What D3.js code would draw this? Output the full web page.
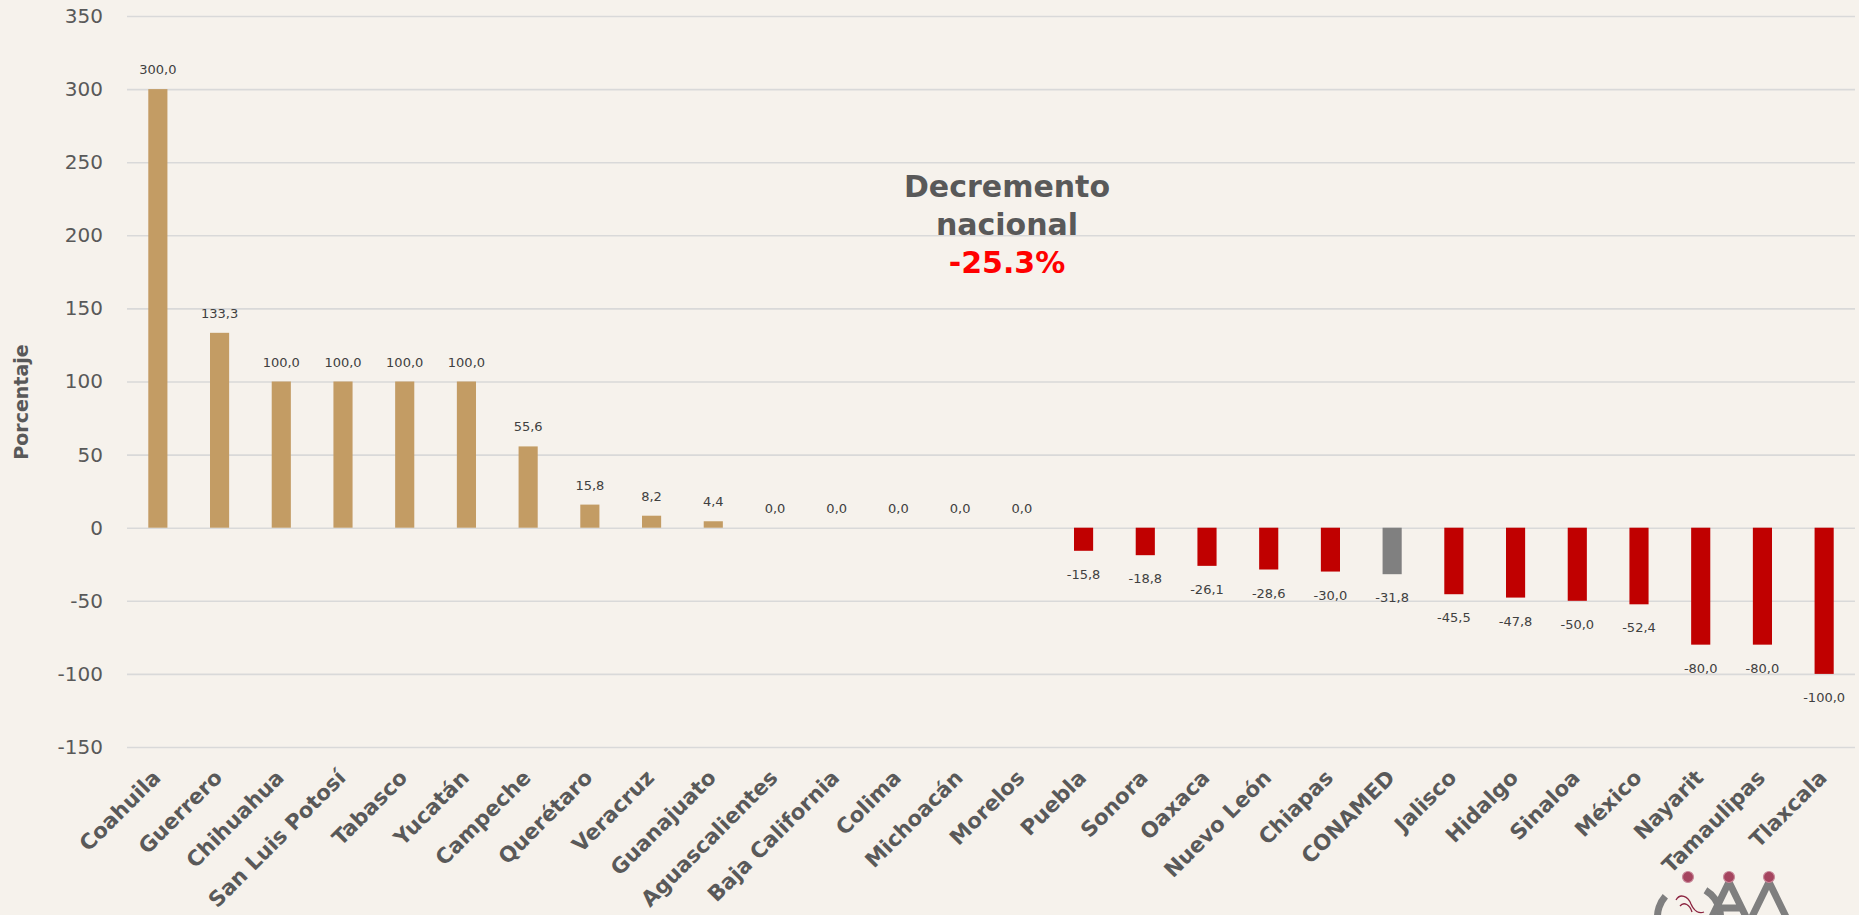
<!DOCTYPE html>
<html>
<head>
<meta charset="utf-8">
<script src="https://cdn.jsdelivr.net/npm/d3@7"></script>
<style>
  html, body { margin: 0; padding: 0; background: #F6F2EC; }
  svg { display: block; }
</style>
</head>
<body>
<script>
// estados y variacion porcentual
var categories = ["Coahuila", "Guerrero", "Chihuahua", "San Luis Potosí", "Tabasco", "Yucatán",
  "Campeche", "Querétaro", "Veracruz", "Guanajuato", "Aguascalientes", "Baja California",
  "Colima", "Michoacán", "Morelos", "Puebla", "Sonora", "Oaxaca", "Nuevo León", "Chiapas",
  "CONAMED", "Jalisco", "Hidalgo", "Sinaloa", "México", "Nayarit", "Tamaulipas", "Tlaxcala"];
var values = [300.0, 133.3, 100.0, 100.0, 100.0, 100.0, 55.6, 15.8, 8.2, 4.4, 0.0, 0.0,
  0.0, 0.0, 0.0, -15.8, -18.8, -26.1, -28.6, -30.0, -31.8, -45.5, -47.8, -50.0, -52.4,
  -80.0, -80.0, -100.0];
var yTicks = [-150, -100, -50, 0, 50, 100, 150, 200, 250, 300, 350];
var note = ["Decremento", "nacional", "-25.3%"];

var W = 1859, H = 915;
var mLeft = 127, mRight = 1855, mTop = 16, mBottom = 747;

var svg = d3.select("body").append("svg")
    .attr("width", W).attr("height", H);
svg.append("rect").attr("width", W).attr("height", H).attr("fill", "#F6F2EC");

var x = d3.scaleBand().domain(categories).range([mLeft, mRight])
    .paddingInner(0.69).paddingOuter(0.345);
var y = d3.scaleLinear().domain([-150, 350]).range([mBottom, mTop]);

// grid + tick labels
var yAxis = svg.append("g").attr("transform", "translate(" + mLeft + ",0)")
    .call(d3.axisLeft(y).tickValues(yTicks).tickSize(-(mRight - mLeft)).tickPadding(24)
      .tickFormat(function(d){ return d; }));
yAxis.select(".domain").remove();
yAxis.selectAll("line").attr("stroke", "#D9D9D9").attr("stroke-width", 1.6);
yAxis.selectAll("text").attr("fill", "#595959")
    .style("font-family", "'DejaVu Sans', sans-serif").style("font-size", "20px");

function barColor(c, v){
  if (c == "CONAMED") return "#808080";
  return v < 0 ? "#C00000" : "#C39C64";
}

var data = categories.map(function(c, i){ return {cat: c, val: values[i]}; });

svg.append("g").selectAll("rect").data(data).enter().append("rect")
    .attr("x", function(d){ return x(d.cat); })
    .attr("width", x.bandwidth())
    .attr("y", function(d){ return y(Math.max(0, d.val)); })
    .attr("height", function(d){ return Math.abs(y(d.val) - y(0)); })
    .attr("fill", function(d){ return barColor(d.cat, d.val); });

// etiquetas de datos
svg.append("g").selectAll("text").data(data).enter().append("text")
    .attr("x", function(d){ return x(d.cat) + x.bandwidth() / 2; })
    .attr("y", function(d){ return d.val < 0 ? y(d.val) + 28 : y(d.val) - 15; })
    .attr("text-anchor", "middle")
    .attr("fill", "#404040")
    .style("font-family", "'DejaVu Sans', sans-serif").style("font-size", "13px")
    .text(function(d){ return d.val.toFixed(1).replace(".", ","); });

// categorias rotadas
svg.append("g").selectAll("text").data(categories).enter().append("text")
    .attr("transform", function(d){
      return "translate(" + (x(d) + x.bandwidth() / 2 + 4) + ",779) rotate(-45)";
    })
    .attr("text-anchor", "end")
    .attr("fill", "#595959")
    .style("font-family", "'DejaVu Sans', sans-serif").style("font-size", "21.3px")
    .style("font-weight", "bold")
    .text(function(d){ return d; });

// titulo eje
svg.append("text")
    .attr("transform", "translate(28,402) rotate(-90)")
    .attr("text-anchor", "middle")
    .attr("fill", "#595959")
    .style("font-family", "'DejaVu Sans', sans-serif").style("font-size", "19px")
    .style("font-weight", "bold")
    .text("Porcentaje");

// anotacion
var ann = svg.append("g").attr("text-anchor", "middle")
    .style("font-family", "'DejaVu Sans', sans-serif").style("font-weight", "bold");
ann.append("text").attr("x", 1007).attr("y", 197).attr("fill", "#595959")
    .style("font-size", "30px").text(note[0]);
ann.append("text").attr("x", 1007).attr("y", 235).attr("fill", "#595959")
    .style("font-size", "30px").text(note[1]);
ann.append("text").attr("x", 1007).attr("y", 273).attr("fill", "#FF0000")
    .style("font-size", "30px").text(note[2]);

// logo (recortado abajo a la derecha)
var logo = svg.append("g");
logo.append("path")
    .attr("d", d3.arc()({innerRadius: 28, outerRadius: 35, startAngle: 0.55, endAngle: 2 * Math.PI - 0.85}))
    .attr("transform", "translate(1689,917)")
    .attr("fill", "#7F7F7F");
logo.append("path").attr("d", "M1708,925 L1729,882 L1750,925 M1716,908 L1742,908")
    .attr("fill", "none").attr("stroke", "#7F7F7F").attr("stroke-width", 7);
logo.append("path").attr("d", "M1748,925 L1769,882 L1790,925")
    .attr("fill", "none").attr("stroke", "#7F7F7F").attr("stroke-width", 7);
logo.append("path").attr("d", "M1676,900 C1680,893 1688,896 1691,904 C1694,911 1699,914 1704,912 M1680,906 C1684,901 1690,905 1692,912")
    .attr("fill", "none").attr("stroke", "#8C2440").attr("stroke-width", 1.3);
[1688, 1729, 1769].forEach(function(cx){
  logo.append("circle").attr("cx", cx).attr("cy", 877).attr("r", 5.5)
      .attr("fill", "#A5455F").attr("stroke", "#C98A9B").attr("stroke-width", 1.2);
});
</script>
</body>
</html>
